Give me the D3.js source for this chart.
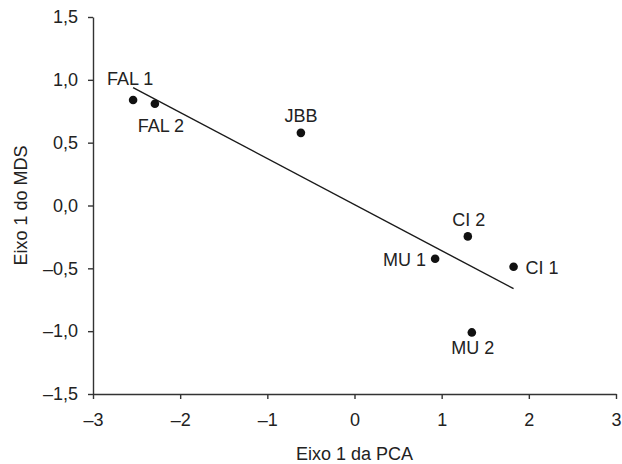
<!DOCTYPE html>
<html>
<head>
<meta charset="utf-8">
<script src="https://cdn.jsdelivr.net/npm/d3@7"></script>
<style>
  body { margin: 0; background: #fff; }
  text { font-family: "Liberation Sans", Arial, sans-serif; fill: #222; }
  .axis path, .axis line { stroke: #333; stroke-width: 1.4; }
  .axis text { font-size: 18px; fill: #222; }
</style>
</head>
<body>
<div id="chart"></div>
<script>
// DATA
const sites = ["FAL 1", "FAL 2", "JBB", "CI 2", "MU 1", "CI 1", "MU 2"]
const pcaAxis1 = [-2.54, -2.29, -0.615, 1.30, 0.925, 1.825, 1.346]
const mdsAxis1 = [0.84, 0.81, 0.578, -0.246, -0.424, -0.487, -1.01]
// trend line end points
const trendX = [-2.54, 1.825]
const trendY = [0.938, -0.662]
const xTicks = [-3, -2, -1, 0, 1, 2, 3]
const yTicks = [-1.5, -1.0, -0.5, 0.0, 0.5, 1.0, 1.5]

// label placement around each dot
const labelPos = {
  "FAL 1": {anchor: "middle", dx: -3, dy: -15},
  "FAL 2": {anchor: "middle", dx: 6, dy: 28},
  "JBB":   {anchor: "middle", dx: 0, dy: -11},
  "CI 2":  {anchor: "middle", dx: 1, dy: -10},
  "MU 1":  {anchor: "end", dx: -9, dy: 7},
  "CI 1":  {anchor: "start", dx: 12, dy: 7},
  "MU 2":  {anchor: "middle", dx: 1, dy: 22}
}

let totalW = 622, totalH = 464
let margin = {top: 17, right: 6, bottom: 70, left: 93}
let width = totalW - margin.left - margin.right
let height = totalH - margin.top - margin.bottom

const pt = d3.formatLocale({decimal: ",", thousands: ".", grouping: [3], currency: ["", ""], minus: "\u2013"})

let xScale = d3.scaleLinear().domain([-3, 3]).range([0, width])
let yScale = d3.scaleLinear().domain([-1.5, 1.5]).range([height, 0])

let xAxis = d3.axisBottom(xScale)
  .tickValues(xTicks)
  .tickSize(5)
  .tickSizeOuter(0)
  .tickPadding(14)
  .tickFormat(pt.format("d"))

let yAxis = d3.axisLeft(yScale)
  .tickValues(yTicks)
  .tickSize(5)
  .tickSizeOuter(0)
  .tickPadding(10)
  .tickFormat(pt.format(".1f"))

let svg = d3.select("#chart").append("svg")
  .attr("width", totalW)
  .attr("height", totalH)
  .append("g")
  .attr("transform", "translate(" + margin.left + "," + margin.top + ")")

svg.append("g")
  .attr("class", "x axis")
  .attr("transform", "translate(0," + height + ")")
  .call(xAxis)

svg.append("g")
  .attr("class", "y axis")
  .call(yAxis)

svg.selectAll(".axis .domain").attr("fill", "none")

// axis titles
svg.append("text")
  .attr("x", width / 2)
  .attr("y", height + 66)
  .attr("text-anchor", "middle")
  .style("font-size", "18px")
  .text("Eixo 1 da PCA")

svg.append("text")
  .attr("transform", "translate(" + (27 - margin.left) + "," + yScale(0) + "),rotate(-90)")
  .attr("text-anchor", "middle")
  .style("font-size", "18px")
  .text("Eixo 1 do MDS")

// trend line
let trend = trendX.map((x, i) => [x, trendY[i]])
svg.append("path")
  .datum(trend)
  .attr("fill", "none")
  .attr("stroke", "#1a1a1a")
  .attr("stroke-width", 1.4)
  .attr("d", d3.line().x(d => xScale(d[0])).y(d => yScale(d[1])))

let points = sites.map((s, i) => ({name: s, x: pcaAxis1[i], y: mdsAxis1[i]}))

svg.selectAll(".dot")
  .data(points)
  .enter().append("circle")
  .attr("class", "dot")
  .attr("cx", d => xScale(d.x))
  .attr("cy", d => yScale(d.y))
  .attr("r", 4.3)
  .attr("fill", "#111")

svg.selectAll(".label")
  .data(points)
  .enter().append("text")
  .attr("class", "label")
  .attr("x", d => xScale(d.x) + labelPos[d.name].dx)
  .attr("y", d => yScale(d.y) + labelPos[d.name].dy)
  .attr("text-anchor", d => labelPos[d.name].anchor)
  .style("font-size", "18px")
  .text(d => d.name)
</script>
</body>
</html>
